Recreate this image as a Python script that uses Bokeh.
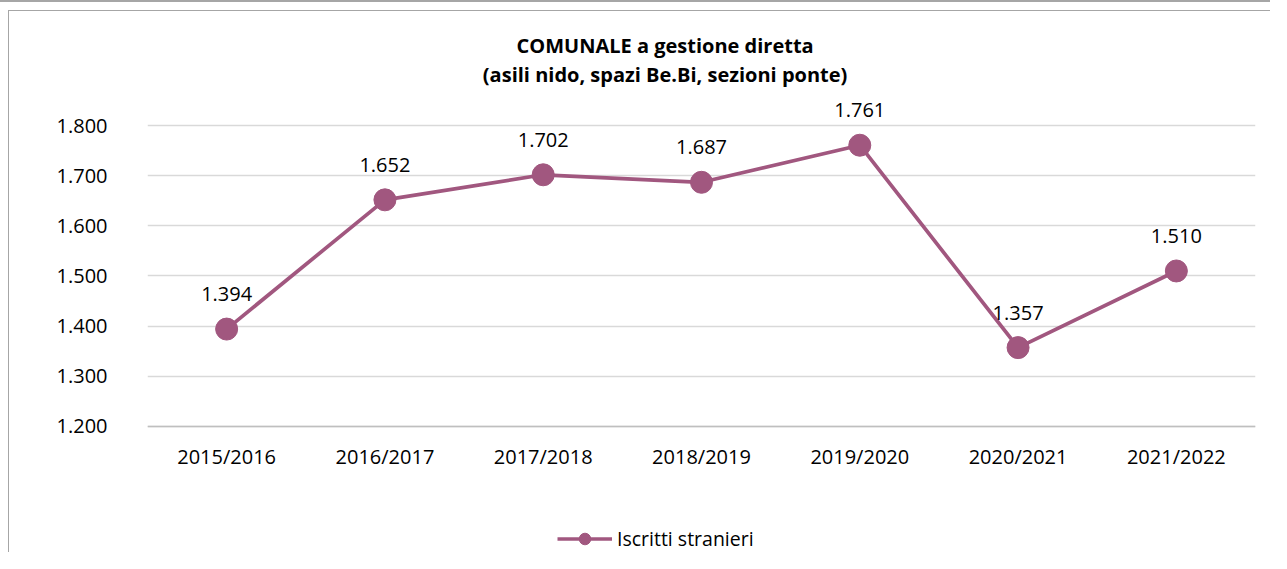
from bokeh.plotting import figure
from bokeh.layouts import column
from bokeh.models import FactorRange, Range1d, FixedTicker, Legend, LegendItem, ColumnDataSource
from bokeh.core.properties import value
from bokeh.embed import file_html
from bokeh.resources import INLINE

categories = ["2015/2016", "2016/2017", "2017/2018", "2018/2019", "2019/2020", "2020/2021", "2021/2022"]
iscritti = [1394, 1652, 1702, 1687, 1761, 1357, 1510]
value_labels = ["1.394", "1.652", "1.702", "1.687", "1.761", "1.357", "1.510"]
y_ticks = [1200, 1300, 1400, 1500, 1600, 1700, 1800]
y_tick_labels = ["1.200", "1.300", "1.400", "1.500", "1.600", "1.700", "1.800"]
title_lines = ["COMUNALE a gestione diretta", "(asili nido, spazi Be.Bi, sezioni ponte)"]
series_name = "Iscritti stranieri"

COLOR = "#A1577F"
FONT = "Open Sans"
FS = "20px"

p = figure(
    x_range=FactorRange(*categories, range_padding=0),
    y_range=Range1d(946, 2000),
    width=1262, height=542,
    output_backend="svg", toolbar_location=None,
    min_border_left=138, min_border_right=16, min_border_top=14, min_border_bottom=0,
)
p.styles = {"border-top": "1px solid #a6a6a6", "border-left": "1px solid #a6a6a6",
            "margin-left": "8px", "margin-top": "8px"}
p.outline_line_color = None
p.background_fill_color = "white"
p.border_fill_color = "white"

p.xgrid.grid_line_color = None
p.ygrid.grid_line_color = "#d9d9d9"
p.ygrid.grid_line_width = 1.3

p.yaxis.ticker = FixedTicker(ticks=y_ticks)
p.yaxis.major_label_overrides = {t: l for t, l in zip(y_ticks, y_tick_labels)}
p.yaxis.axis_line_color = None
p.yaxis.major_tick_line_color = None
p.yaxis.minor_tick_line_color = None
p.yaxis.major_label_standoff = 34
p.yaxis.major_label_text_font = FONT
p.yaxis.major_label_text_font_size = FS
p.yaxis.major_label_text_color = "#000000"

p.xaxis.fixed_location = y_ticks[0]
p.xaxis.axis_line_color = "#bfbfbf"
p.xaxis.axis_line_width = 1.3
p.xaxis.major_tick_line_color = None
p.xaxis.minor_tick_line_color = None
p.xaxis.major_label_standoff = 11
p.xaxis.major_label_text_font = FONT
p.xaxis.major_label_text_font_size = FS
p.xaxis.major_label_text_color = "#000000"

src = ColumnDataSource(dict(x=categories, y=iscritti, lab=value_labels))
ln = p.line("x", "y", source=src, line_color=COLOR, line_width=3.7)
sc = p.scatter("x", "y", source=src, size=22, fill_color=COLOR, line_color=COLOR)
p.text("x", "y", text="lab", source=src, text_align="center", text_baseline="alphabetic",
       y_offset=-35, text_font=value(FONT), text_font_size=FS, text_color="#000000")

# title (two lines) in data coordinates above the 1.800 gridline
title_x = [3.27, 3.27]
title_y = [1960, 1902]
p.text(title_x, title_y, text=title_lines, text_align="center", text_baseline="middle",
       text_font=value(FONT), text_font_size=FS, text_font_style="bold", text_color="#000000")

legend = Legend(
    items=[LegendItem(label=series_name, renderers=[ln, sc])],
    location=(410, 0), orientation="horizontal",
    padding=0, margin=0, spacing=0, label_standoff=5,
    glyph_width=55, glyph_height=29,
    border_line_color=None, background_fill_alpha=0,
    label_text_font=FONT, label_text_font_size="19.5px", label_text_color="#000000",
)
p.add_layout(legend, "center")

layout = column(p, styles={"border-top": "2px solid #a6a6a6"})
open("out.html", "w").write(file_html(layout, INLINE))
